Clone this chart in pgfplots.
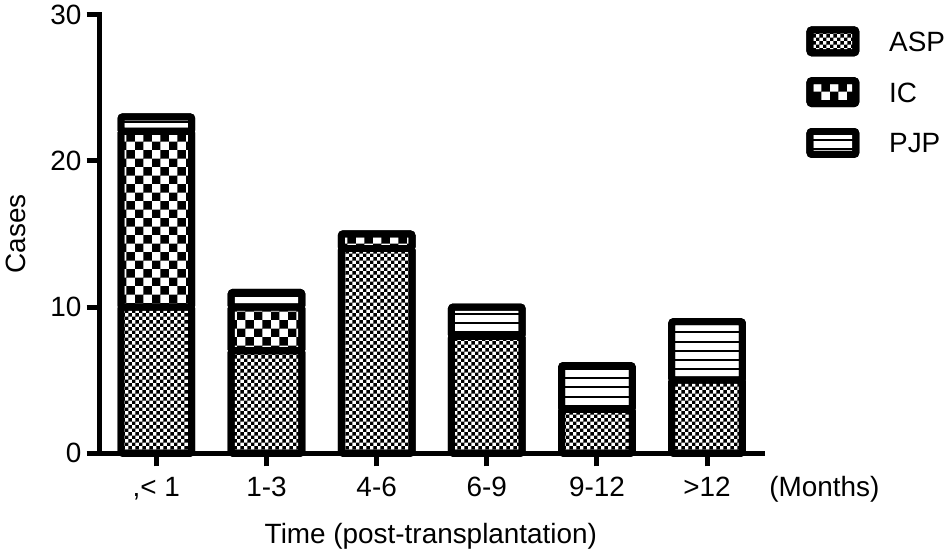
\documentclass[border=0pt]{standalone}
\usepackage{fontspec}
\setmainfont{Liberation Sans}
\usepackage{pgfplots}
\pgfplotsset{compat=1.18}
\usetikzlibrary{patterns}

\pgfdeclarepatternformonly{finecheck}{\pgfpointorigin}{\pgfpoint{7pt}{7pt}}{\pgfpoint{7pt}{7pt}}{%
  \pgfpathrectangle{\pgfpointorigin}{\pgfpoint{3.5pt}{3.5pt}}%
  \pgfpathrectangle{\pgfpoint{3.5pt}{3.5pt}}{\pgfpoint{3.5pt}{3.5pt}}%
  \pgfusepath{fill}}
\pgfdeclarepatternformonly{bigcheck}{\pgfpointorigin}{\pgfpoint{17pt}{17pt}}{\pgfpoint{17pt}{17pt}}{%
  \pgfpathrectangle{\pgfpointorigin}{\pgfpoint{8.5pt}{8.5pt}}%
  \pgfpathrectangle{\pgfpoint{8.5pt}{8.5pt}}{\pgfpoint{8.5pt}{8.5pt}}%
  \pgfusepath{fill}}
\pgfdeclarepatternformonly{hlinesbig}{\pgfpoint{-1pt}{-1pt}}{\pgfpoint{10.2pt}{10.2pt}}{\pgfpoint{9.2pt}{9.2pt}}{%
  \pgfsetlinewidth{2pt}%
  \pgfpathmoveto{\pgfpoint{-1pt}{4.6pt}}%
  \pgfpathlineto{\pgfpoint{10.2pt}{4.6pt}}%
  \pgfusepath{stroke}}

\pgfplotstableread{
x asp ic pjp
0 10 12 1
1 7 3 1
2 14 1 0
3 8 0 2
4 3 0 3
5 5 0 4
}\datatable

\begin{document}
\fontsize{28}{34}\selectfont
\begin{tikzpicture}
\begin{axis}[
  scale only axis,
  clip=false,
  width=665pt, height=440.5pt,
  xmin=-0.515, xmax=5.5,
  ymin=0, ymax=30,
  ybar stacked,
  bar width=71pt,
  axis x line*=bottom, axis y line*=left,
  axis line style={line width=5pt, line cap=rect},
  tick style={line width=5pt, black},
  tick align=outside,
  major tick length=13pt,
  xtick={0,1,2,3,4,5},
  xticklabels={{,< 1},1-3,4-6,6-9,9-12,>12},
  ytick={0,10,20,30},
  /pgf/number format/assume math mode=true,
  xticklabel style={font=\fontsize{28}{34}\selectfont, text height=20pt, text depth=0pt, inner sep=0pt, yshift=-10pt},
  yticklabel style={font=\fontsize{28}{34}\selectfont, inner sep=0pt, xshift=-5pt},
  xlabel={Time (post-transplantation)},
  xlabel style={font=\fontsize{28}{34}\selectfont, at={(axis description cs:0.5,0)}, anchor=base, yshift=-91pt, inner sep=0pt},
  ylabel={Cases},
  ylabel style={font=\fontsize{28}{34}\selectfont, at={(axis description cs:-0.1263,0.5)}, anchor=center, inner sep=0pt},
  every axis plot/.append style={draw=black, line width=7pt, rounded corners=2pt},
  legend cell align=left,
  legend image code/.code={\draw[#1, line width=7pt, rounded corners=2pt] (0pt,-11.5pt) rectangle (46pt,11.5pt);},
  legend style={draw=none, fill=none, at={(axis description cs:1.0669,0.9728)}, anchor=north west,
    inner sep=0pt, outer sep=0pt, row sep=21pt, font=\fontsize{28}{34}\selectfont,
    nodes={inner sep=0pt, anchor=west, text height=20pt, text depth=0pt},
    /tikz/every odd column/.append style={column sep=30pt}},
]
\addplot[fill=white, postaction={pattern=finecheck}] table[x=x, y=asp] {\datatable};
\addlegendentry{ASP}
\addplot[fill=white, postaction={pattern=bigcheck}] table[x=x, y=ic] {\datatable};
\addlegendentry{IC}
\addplot[fill=white, postaction={pattern=hlinesbig}] table[x=x, y=pjp] {\datatable};
\addlegendentry{PJP}
\node[anchor=base west, inner sep=0pt, font=\fontsize{28}{34}\selectfont] at ([yshift=-43pt]axis description cs:1.0105,0) {(Months)};
\end{axis}
\path[use as bounding box] (-100pt,-104pt) rectangle (845pt,455pt);
\end{tikzpicture}
\end{document}
